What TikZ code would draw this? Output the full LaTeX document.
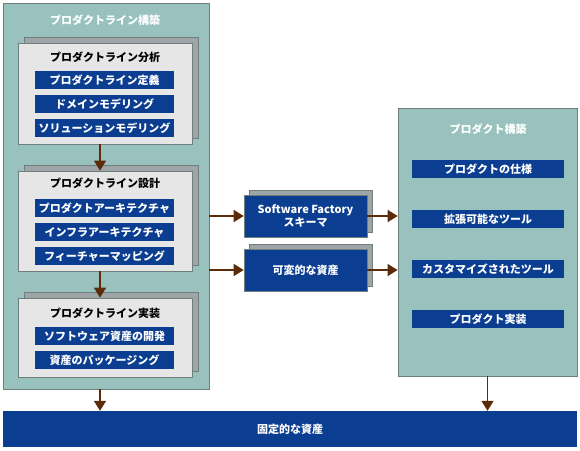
\documentclass[tikz,border=0pt]{standalone}
\usepackage{fontspec}
\setmainfont{Noto Sans CJK JP}
\usetikzlibrary{arrows.meta}
\definecolor{teal1}{HTML}{99C2BE}
\definecolor{navy1}{HTML}{0B3D91}
\definecolor{paper1}{HTML}{E6E6E6}
\definecolor{shade1}{HTML}{9EA5A6}
\definecolor{edge1}{HTML}{6E7F7E}
\definecolor{brown1}{HTML}{5C2C0A}
\begin{document}
\begin{tikzpicture}[x=1pt,y=-1pt,
    font=\fontsize{11}{13}\selectfont\bfseries,
    panel/.style={draw=edge1,fill=teal1,line width=0.8pt},
    stage/.style={draw=edge1,fill=paper1,line width=0.8pt,minimum width=174pt},
    shade/.style={draw=edge1,fill=shade1,line width=0.8pt,minimum width=174pt},
    bar/.style={fill=navy1,text=white,minimum width=139pt,minimum height=18pt,inner sep=0pt},
    pbar/.style={bar,minimum width=152pt},
    asset/.style={fill=navy1,text=white,draw=edge1,line width=0.6pt,minimum width=123pt,minimum height=42pt,align=center,inner sep=0pt},
    flow/.style={draw=brown1,line width=1.6pt,-{Triangle[length=10pt,width=12pt]}}]
  \useasboundingbox (0,0) rectangle (580,450);
  \node[panel,minimum width=206pt,minimum height=386pt] (build) at (106,196) {};
  \node[text=white] (buildt) at (105,20) {プロダクトライン構築};
  \node[shade,minimum height=101pt] (s1) at (111,87.5) {};
  \node[stage,minimum height=101pt] (analysis) at (105,93.5) {};
  \node (analysist) at (105,57) {プロダクトライン分析};
  \node[bar] (a1) at (104.5,80) {プロダクトライン定義};
  \node[bar] (a2) at (104.5,104) {ドメインモデリング};
  \node[bar] (a3) at (104.5,128) {ソリューションモデリング};
  \node[shade,minimum height=100pt] (s2) at (111,215) {};
  \node[stage,minimum height=100pt] (design) at (105,221) {};
  \node (designt) at (105,183) {プロダクトライン設計};
  \node[bar] (d1) at (104.5,208) {プロダクトアーキテクチャ};
  \node[bar] (d2) at (104.5,232) {インフラアーキテクチャ};
  \node[bar] (d3) at (104.5,256) {フィーチャーマッピング};
  \node[shade,minimum height=79pt] (s3) at (111,331.5) {};
  \node[stage,minimum height=79pt] (impl) at (105,337.5) {};
  \node (implt) at (105,313) {プロダクトライン実装};
  \node[bar] (i1) at (104.5,336) {ソフトウェア資産の開発};
  \node[bar] (i2) at (104.5,360) {資産のパッケージング};
  \node[asset,fill=shade1] (s4) at (310.5,211) {};
  \node[asset] (schema) at (305.5,216) {Software Factory\\スキーマ};
  \node[asset,fill=shade1] (s5) at (310.5,265) {};
  \node[asset] (variable) at (305.5,270) {可変的な資産};
  \node[panel,minimum width=179pt,minimum height=268pt] (product) at (487.5,242) {};
  \node[text=white] (productt) at (488,129) {プロダクト構築};
  \node[pbar] (p1) at (488,169) {プロダクトの仕様};
  \node[pbar] (p2) at (488,219) {拡張可能なツール};
  \node[pbar] (p3) at (488,269) {カスタマイズされたツール};
  \node[pbar] (p4) at (488,319) {プロダクト実装};
  \node[fill=navy1,text=white,minimum width=574pt,minimum height=36pt,inner sep=0pt] (fixed) at (290,429) {固定的な資産};
  \begin{scope}
    \draw[flow] ([xshift=-5pt]analysis.south) -- ([xshift=-5pt]design.north);
    \draw[flow] ([xshift=-5pt]design.south) -- ([xshift=-5pt]impl.north);
    \draw[flow] ([xshift=-6pt]build.south) -- ([xshift=-6pt]build.south |- fixed.north);
    \draw[flow] (schema.west -| build.east) -- (schema.west);
    \draw[flow] (variable.west -| build.east) -- (variable.west);
    \draw[flow] (schema.east) -- (schema.east -| product.west);
    \draw[flow] (variable.east) -- (variable.east -| product.west);
    \draw[flow] (product.south) -- (product.south |- fixed.north);
  \end{scope}
\end{tikzpicture}
\end{document}
